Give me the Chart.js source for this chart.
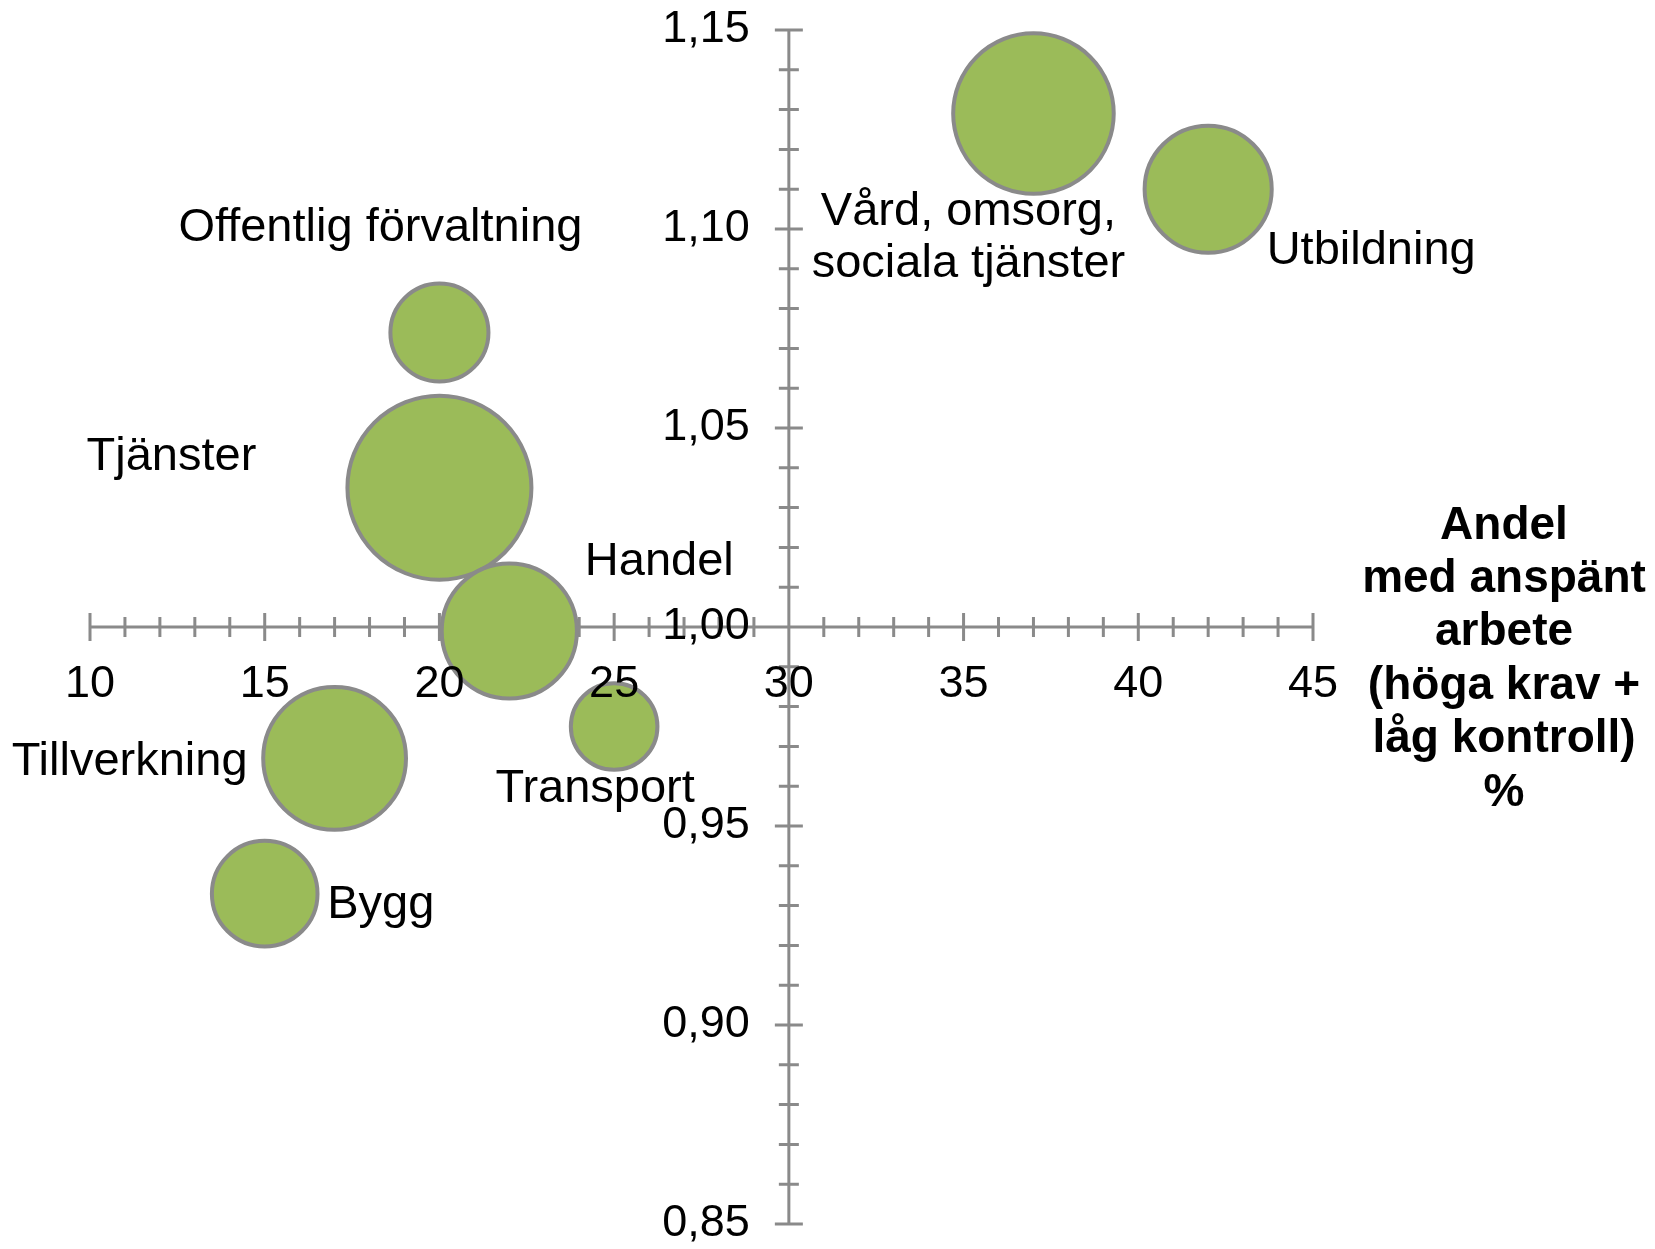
<!DOCTYPE html>
<html>
<head>
<meta charset="utf-8">
<script src="https://cdn.jsdelivr.net/npm/chart.js@4.4.1/dist/chart.umd.min.js"></script>
<style>
  html, body { margin: 0; padding: 0; background: #ffffff; }
</style>
</head>
<body>
<canvas id="chart-01" width="1655" height="1249"></canvas>
<script>
// ==================data=================

const sectors = [
  "Vård, omsorg,\nsociala tjänster",
  "Utbildning",
  "Offentlig förvaltning",
  "Tjänster",
  "Handel",
  "Transport",
  "Tillverkning",
  "Bygg",
];
const strainShare = [37, 42, 20, 20, 22, 25, 17, 15]; // x, %
const relativeRisk = [1.129, 1.11, 1.074, 1.035, 0.999, 0.975, 0.967, 0.933]; // y
const employed = [670, 420, 250, 880, 475, 195, 530, 290]; // bubble size

const xTicks = [10, 15, 20, 25, 30, 35, 40, 45];
const yTicks = [0.85, 0.9, 0.95, 1.0, 1.05, 1.1, 1.15];
const xTickLabels = ["10", "15", "20", "25", "30", "35", "40", "45"];
const yTickLabels = ["0,85", "0,90", "0,95", "1,00", "1,05", "1,10", "1,15"];

const xTitle = ["Andel", "med anspänt", "arbete", "(höga krav +", "låg kontroll)", "%"];

// ==================style=================

const FONT = '"Liberation Sans", Arial, sans-serif';
const AXIS_COLOR = "#8a8a8a";
const MAX_RADIUS = 92;
// label offsets from bubble centre, px
const labelOffsets = [
  [-65, 124], [163, 62], [-59, -104], [-268, -31],
  [150, -69], [-19, 63], [-205, 4], [116, 11],
];

function bubbleRadius(v) {
  return MAX_RADIUS * Math.sqrt(v / Math.max(...employed));
}

// axes crossing at x = 30, y = 1,00 with ticks through the line
const crossAxes = {
  id: "crossAxes",
  beforeDatasetsDraw(chart) {
    const { ctx, scales: { x, y } } = chart;
    const ax = x.getPixelForValue(30);
    const ay = y.getPixelForValue(1.0);
    ctx.save();
    ctx.strokeStyle = AXIS_COLOR;
    ctx.lineWidth = 3;
    ctx.beginPath();
    ctx.moveTo(x.getPixelForValue(10), ay);
    ctx.lineTo(x.getPixelForValue(45), ay);
    ctx.moveTo(ax, y.getPixelForValue(0.85));
    ctx.lineTo(ax, y.getPixelForValue(1.15));
    // x ticks every 1
    for (let v = 10; v <= 45; v++) {
      const px = x.getPixelForValue(v);
      const len = v % 5 === 0 ? 14 : 10;
      ctx.moveTo(px, ay - len);
      ctx.lineTo(px, ay + len);
    }
    // y ticks every 0,01
    for (let k = 85; k <= 115; k++) {
      const py = y.getPixelForValue(k / 100);
      const len = k % 5 === 0 ? 14 : 10;
      ctx.moveTo(ax - len, py);
      ctx.lineTo(ax + len, py);
    }
    ctx.stroke();
    ctx.restore();
  },
  afterDatasetsDraw(chart) {
    const { ctx, scales: { x, y } } = chart;
    const ax = x.getPixelForValue(30);
    const ay = y.getPixelForValue(1.0);
    ctx.save();
    ctx.fillStyle = "#000000";
    ctx.textBaseline = "middle";

    // tick labels
    ctx.font = "45px " + FONT;
    ctx.textAlign = "center";
    xTicks.forEach((v, i) => {
      ctx.fillText(xTickLabels[i], x.getPixelForValue(v), ay + 58);
    });
    ctx.textAlign = "right";
    yTicks.forEach((v, i) => {
      ctx.fillText(yTickLabels[i], ax - 39, y.getPixelForValue(v));
    });

    // bubble labels
    ctx.font = "47px " + FONT;
    ctx.textAlign = "center";
    const meta = chart.getDatasetMeta(0);
    meta.data.forEach((pt, i) => {
      const lines = sectors[i].split("\n");
      const cx = pt.x + labelOffsets[i][0];
      const cy = pt.y + labelOffsets[i][1];
      lines.forEach((line, j) => {
        ctx.fillText(line, cx, cy + (j - (lines.length - 1) / 2) * 52);
      });
    });

    // x axis title
    ctx.font = "bold 46px " + FONT;
    xTitle.forEach((line, j) => {
      ctx.fillText(line, 1504, 526 + j * 53.4);
    });
    ctx.restore();
  },
};

const ctx01 = document.getElementById("chart-01").getContext("2d");

new Chart(ctx01, {
  type: "bubble",
  data: {
    datasets: [
      {
        label: "Branscher",
        data: strainShare.map((v, i) => ({
          x: v,
          y: relativeRisk[i],
          r: bubbleRadius(employed[i]),
        })),
        backgroundColor: "#9bbb59",
        borderColor: AXIS_COLOR,
        borderWidth: 4,
        clip: false,
      },
    ],
  },
  options: {
    responsive: false,
    animation: false,
    devicePixelRatio: 1,
    layout: {
      autoPadding: false,
      padding: { left: 90, right: 342, top: 30, bottom: 25 },
    },
    plugins: {
      legend: { display: false },
      tooltip: { enabled: false },
    },
    scales: {
      x: { type: "linear", min: 10, max: 45, display: false },
      y: { type: "linear", min: 0.85, max: 1.15, display: false },
    },
  },
  plugins: [crossAxes],
});
</script>
</body>
</html>
